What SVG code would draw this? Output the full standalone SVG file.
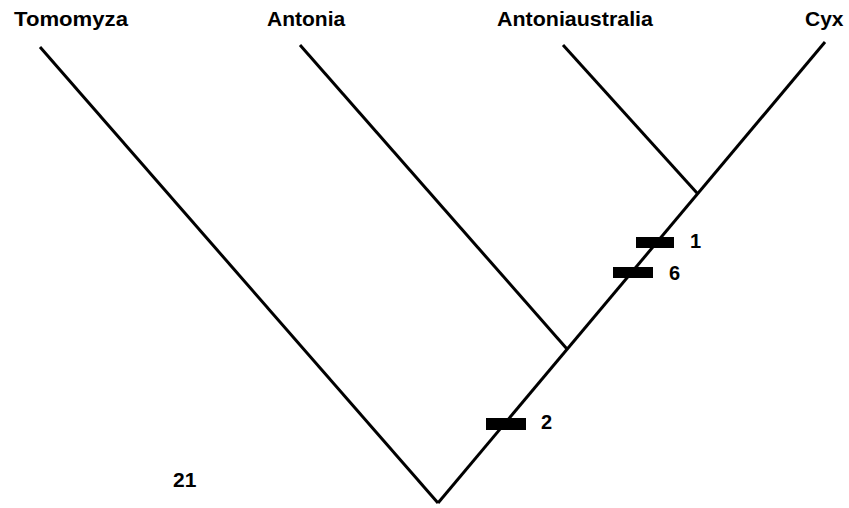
<svg xmlns="http://www.w3.org/2000/svg" width="849" height="508" viewBox="0 0 849 508">
<style>
.br{stroke:#000;stroke-width:3;fill:none;stroke-linecap:butt}
.lbl{font-family:"Liberation Sans",Arial,sans-serif;font-weight:bold;font-size:21px;fill:#000}
.num{font-family:"Liberation Sans",Arial,sans-serif;font-weight:bold;font-size:20px;fill:#000}
.bar{fill:#000}
</style>
<rect width="849" height="508" fill="#fff"/>
<g id="connectors">
<line class="br" x1="40" y1="47" x2="438" y2="503"/>
<line class="br" x1="438" y1="503" x2="825" y2="42"/>
<line class="br" x1="300" y1="45" x2="567" y2="349"/>
<line class="br" x1="563" y1="45" x2="697" y2="193"/>
</g>
<g id="tomomyza"><text class="lbl" x="14" y="26" textLength="114" lengthAdjust="spacingAndGlyphs">Tomomyza</text></g>
<g id="antonia"><text class="lbl" x="267" y="26">Antonia</text></g>
<g id="antoniaustralia"><text class="lbl" x="497" y="26" textLength="156" lengthAdjust="spacingAndGlyphs">Antoniaustralia</text></g>
<g id="cyx"><text class="lbl" x="805" y="26">Cyx</text></g>
<g id="char1"><rect class="bar" x="636" y="237" width="38" height="11"/><text class="num" x="690" y="248">1</text></g>
<g id="char6"><rect class="bar" x="613" y="267" width="40" height="11"/><text class="num" x="669" y="280">6</text></g>
<g id="char2"><rect class="bar" x="486" y="418" width="40" height="12"/><text class="num" x="541" y="429">2</text></g>
<g id="label21"><text class="lbl" x="173" y="487">21</text></g>
</svg>
